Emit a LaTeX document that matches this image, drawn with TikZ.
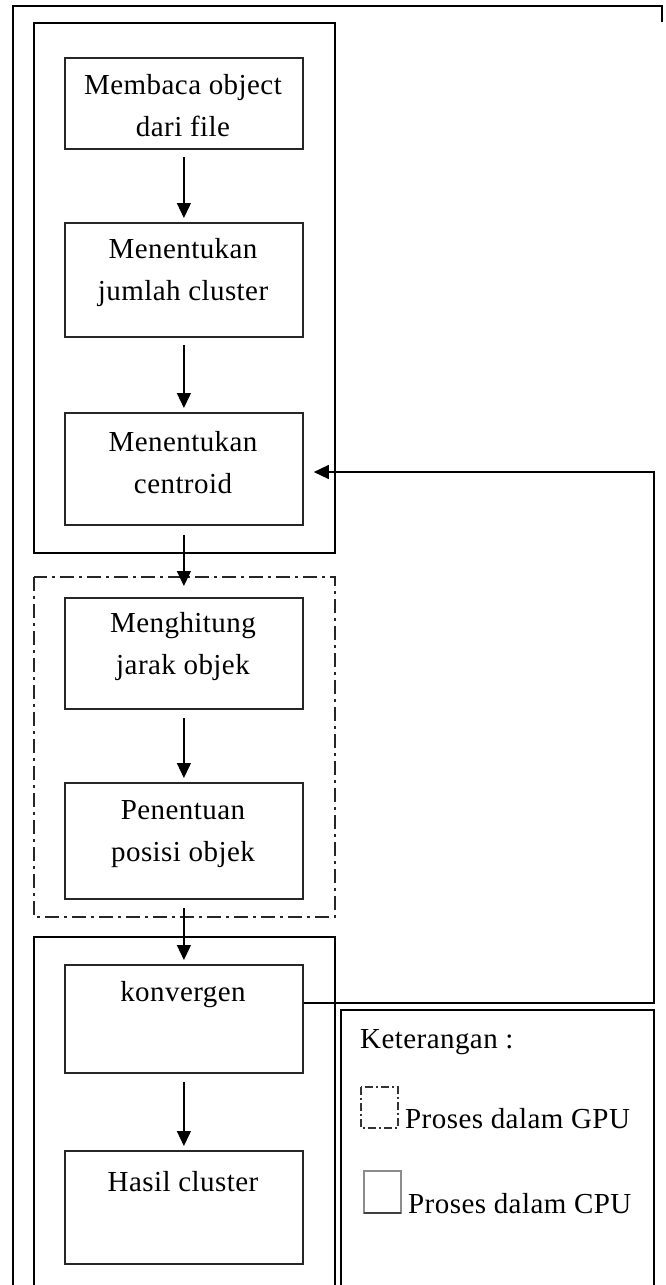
\documentclass[tikz,border=0pt]{standalone}
\usepackage{fontspec}
\setmainfont{Liberation Serif}[LetterSpace=1.5]
\usetikzlibrary{arrows.meta}
\begin{document}
\begin{tikzpicture}[x=1pt,y=-1pt,
  frame/.style={draw=black, line width=1.4pt},
  gpuframe/.style={draw=black!85, line width=1.4pt, dash pattern=on 14pt off 5pt on 3pt off 5pt},
  stepbox/.style={draw=black!85, line width=1.8pt, minimum width=238pt, inner sep=0pt, anchor=north west},
  txt/.style={font=\fontsize{29}{42}\selectfont, align=center, inner sep=0pt},
  legtxt/.style={font=\fontsize{29}{34}\selectfont, inner sep=0pt, anchor=base west},
  flow/.style={line width=1.3pt, -{Triangle[length=15pt,width=14pt]}}]
\useasboundingbox[fill=white] (0,0) rectangle (665,1285);
% outer frame
\draw[frame] (13,1290) -- (13,6) -- (662,6) -- (662,22);
% containers
\draw[frame] (34,23) rectangle (335,553);
\draw[gpuframe] (34,577) rectangle (335,917);
\draw[frame] (34,1290) -- (34,937) -- (335,937) -- (335,1290);
\draw[frame] (341,1290) -- (341,1010) -- (654,1010) -- (654,1290);
% step boxes
\node[stepbox, minimum height=91pt]  (b1) at (64,57) {};
\node[stepbox, minimum height=114pt] (b2) at (64,222) {};
\node[stepbox, minimum height=112pt] (b3) at (64,412) {};
\node[stepbox, minimum height=111pt] (b4) at (64,597) {};
\node[stepbox, minimum height=116pt] (b5) at (64,782) {};
\node[stepbox, minimum height=108pt] (b6) at (64,964) {};
\node[stepbox, minimum height=113pt] (b7) at (64,1150) {};
% texts
\node[txt] (t1) at (183,106) {Membaca object\\dari file};
\node[txt] (t2) at (183,273) {Menentukan\\jumlah cluster};
\node[txt] (t3) at (183,463) {Menentukan\\centroid};
\node[txt] (t4) at (183,647) {Menghitung\\jarak objek};
\node[txt] (t5) at (183,834) {Penentuan\\posisi objek};
\node[txt] (t6) at (183,995) {konvergen};
\node[txt] (t7) at (183,1182) {Hasil cluster};
% flow arrows
\draw[flow, shorten <=7pt, shorten >=4pt] (b1.south) -- (b2.north);
\draw[flow, shorten <=7pt, shorten >=4pt] (b2.south) -- (b3.north);
\draw[flow, shorten <=9pt, shorten >=11pt] (b3.south) -- (b4.north);
\draw[flow, shorten <=8pt, shorten >=4pt] (b4.south) -- (b5.north);
\draw[flow, shorten <=8pt, shorten >=4pt] (b5.south) -- (b6.north);
\draw[flow, shorten <=8pt, shorten >=4pt] (b6.south) -- (b7.north);
% feedback
\coordinate (fbA) at (654,1003);
\coordinate (fbB) at (654,472);
\draw[flow] (b6.east |- fbA) -- (fbA) -- (fbB) -- ([xshift=10pt]b3.east |- fbB);
% legend
\node[legtxt] (k) at (360,1048) {Keterangan :};
\draw[draw=black!80, line width=1.2pt, dash pattern=on 8pt off 3pt on 2pt off 3pt] (361,1087) rectangle (398,1128);
\node[legtxt] (g) at (405,1128) {Proses dalam GPU};
\draw[draw=black!45, line width=1.2pt] (364,1171) rectangle (401,1213);
\draw[draw=black!75, line width=1.8pt] (364,1213) -- (401,1213);
\node[legtxt] (c) at (408,1213) {Proses dalam CPU};
\end{tikzpicture}
\end{document}
